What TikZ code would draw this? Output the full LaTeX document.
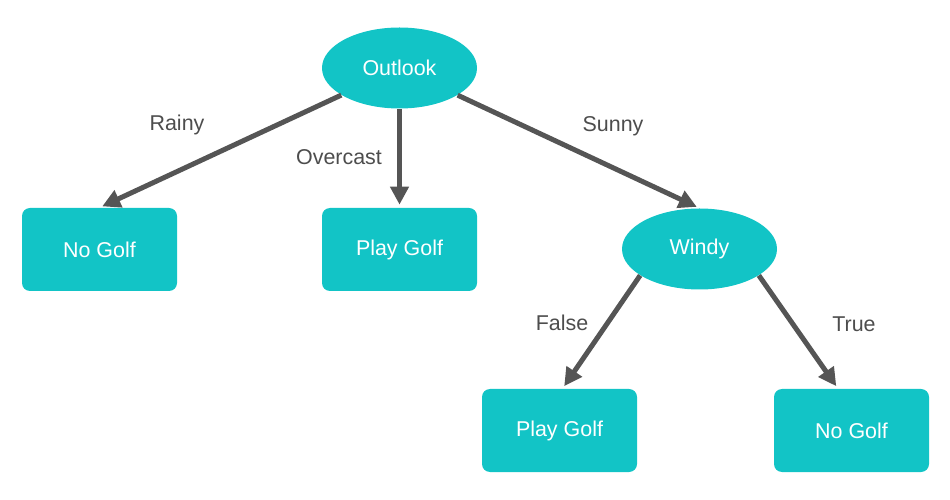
\documentclass[tikz,border=0pt]{standalone}
\usepackage{fontspec}
\setmainfont{Liberation Sans}
\usepackage{xcolor}
\usetikzlibrary{shapes.geometric,arrows.meta}

\definecolor{treecyan}{HTML}{12C4C6}
\definecolor{edgegray}{HTML}{555555}
\definecolor{labelgray}{HTML}{4D4D4D}

\begin{document}
\begin{tikzpicture}[
    every node/.style={font=\fontsize{12.2}{14}\selectfont},
    decision/.style={ellipse, fill=treecyan, text=white, minimum width=3.1cm, minimum height=1.62cm, inner sep=0pt},
    leaf/.style={rectangle, rounded corners=0.16cm, fill=treecyan, text=white, minimum width=3.1cm, minimum height=1.66cm},
    branch/.style={-{Triangle[length=0.36cm,width=0.36cm]}, line width=0.1cm, draw=edgegray, shorten >=0.06cm},
    choice/.style={text=labelgray}]
            \useasboundingbox (0,0) rectangle (19,-10);
            % tree nodes
            \node [decision] (outlook) at (7.99, -1.36) {Outlook};
            \node [leaf] (nogolfA) at (1.99, -4.99) {No Golf};
            \node [leaf] (playgolfA) at (7.99, -4.99) {Play Golf};
            \node [decision] (windy) at (13.99, -4.98) {Windy};
            \node [leaf] (playgolfB) at (11.19, -8.61) {Play Golf};
            \node [leaf] (nogolfB) at (17.03, -8.61) {No Golf};
            % branches
            \draw [branch] (outlook) -- (nogolfA.north);
            \draw [branch] (outlook) -- (playgolfA.north);
            \draw [branch] (outlook) -- (windy.north);
            \draw [branch] (windy.204) -- ([xshift=0.06cm]playgolfB.north);
            \draw [branch] (windy.-24) -- ([xshift=-0.27cm]nogolfB.north);
            % branch labels
            \node [choice] (rainy) at (3.54, -2.5) {Rainy};
            \node [choice] (overcast) at (6.78, -3.15) {Overcast};
            \node [choice] (sunny) at (12.26, -2.52) {Sunny};
            \node [choice] (false) at (11.24, -6.46) {False};
            \node [choice] (true) at (17.08, -6.48) {True};
\end{tikzpicture}
\end{document}
